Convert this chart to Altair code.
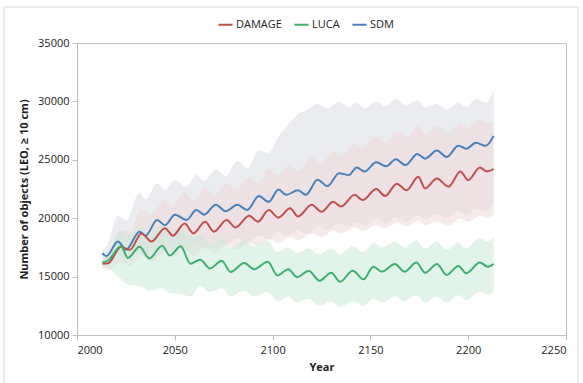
import altair as alt
import pandas as pd

names = ["DAMAGE", "LUCA", "SDM"]
line_colors = ["#c0504d", "#3daf6e", "#4682bd"]
band_colors = {"SDM": "#d8dde4", "DAMAGE": "#eed8d8", "LUCA": "#cbe9d9"}

x_ticks = [2000, 2050, 2100, 2150, 2200, 2250]
y_ticks = [10000, 15000, 20000, 25000, 30000, 35000]

sdm_years = [2013, 2015, 2021, 2025, 2032, 2035, 2041, 2045, 2050, 2056, 2061, 2065, 2071, 2076,
             2082, 2087, 2093, 2098, 2103, 2107, 2113, 2117, 2123, 2128, 2134, 2139, 2143, 2147,
             2153, 2158, 2163, 2168, 2174, 2178, 2184, 2189, 2195, 2199, 2204, 2209, 2213]
sdm_vals = [17000, 16750, 18000, 17300, 18850, 18500, 19850, 19400, 20300, 19850, 20700, 20300,
            21150, 20600, 21150, 20700, 21900, 21400, 22450, 22000, 22400, 22000, 23300, 22750,
            23850, 23700, 24350, 24000, 24800, 24450, 25050, 24550, 25500, 25100, 25800, 25250,
            26200, 25950, 26450, 26200, 27050]
sdm_hi = [17400, 17600, 20200, 19800, 22200, 21600, 23000, 22400, 23300, 22700, 23700, 23200,
          24200, 23600, 24900, 24300, 25800, 25600, 27000, 27800, 28900, 29200, 29800, 29400,
          30000, 29500, 29900, 29400, 30000, 29600, 30200, 29700, 30100, 29500, 29800, 29300,
          29900, 29500, 30200, 29900, 31000]
sdm_lo = [16600, 16300, 16900, 16400, 17200, 16900, 17400, 17100, 17700, 17300, 17900, 17500,
          18100, 17700, 18300, 17900, 18500, 18200, 18800, 18500, 19000, 18700, 19300, 19000,
          19500, 19300, 19700, 19400, 19900, 19600, 20100, 19700, 20300, 19900, 20400, 20000,
          20600, 20300, 20800, 20600, 21200]

dmg_years = [2013, 2016, 2022.5, 2027, 2033, 2038, 2045, 2049, 2055, 2059.5, 2065.5, 2070, 2076.5,
             2081, 2088, 2092.5, 2098, 2103, 2109, 2113, 2120, 2125, 2131, 2135, 2142, 2146, 2153,
             2157.5, 2163.5, 2168.5, 2174.5, 2178, 2184, 2190, 2196, 2200, 2206, 2209.5, 2213]
dmg_vals = [16100, 16150, 17550, 17300, 18700, 18000, 19150, 18500, 19550, 18700, 19700, 18850,
            19850, 19200, 20200, 19700, 20700, 20050, 20850, 20150, 21150, 20550, 21400, 21000,
            22000, 21550, 22500, 21900, 22950, 22400, 23550, 22550, 23400, 22700, 24000, 23250,
            24350, 24000, 24200]
dmg_hi = [16500, 16800, 19000, 18900, 20700, 20300, 21600, 21100, 22200, 21500, 22600, 21900,
          23000, 22500, 23500, 23100, 24200, 23700, 24600, 24000, 25200, 24700, 25700, 25300,
          26400, 26000, 27000, 26500, 27400, 27000, 27900, 27200, 27900, 27300, 28200, 27700,
          28400, 28100, 28300]
dmg_lo = [15700, 15600, 16200, 15900, 16800, 16300, 17100, 16700, 17300, 16800, 17500, 17000,
          17700, 17300, 17900, 17600, 18200, 17900, 18400, 18100, 18700, 18400, 18900, 18700,
          19200, 18900, 19400, 19100, 19600, 19300, 19800, 19400, 19700, 19400, 20000, 19700,
          20200, 20000, 20300]

luca_years = [2013, 2016, 2022.5, 2026, 2032, 2037, 2043.5, 2047.5, 2053, 2058, 2063, 2068, 2074,
              2078.5, 2085.5, 2090.5, 2097.5, 2102.5, 2108, 2112.5, 2118.5, 2124, 2130, 2134.5,
              2141, 2146.5, 2151.5, 2156, 2162.5, 2167.5, 2173.5, 2178, 2184, 2189, 2195, 2199,
              2206, 2210, 2213]
luca_vals = [16200, 16400, 17600, 16600, 17550, 16550, 17650, 16800, 17600, 16100, 16450, 15700,
             16350, 15400, 16170, 15640, 16270, 15100, 15630, 14950, 15480, 14650, 15330, 14560,
             15500, 14770, 15850, 15420, 16080, 15420, 16200, 15330, 16080, 15140, 15910, 15280,
             16200, 15850, 16080]
luca_hi = [16500, 17000, 19000, 18500, 19300, 18700, 19400, 18900, 19300, 18400, 18500, 17800,
           18300, 17500, 18100, 17600, 18100, 17100, 17500, 17000, 17400, 16900, 17400, 16900,
           17600, 17100, 17900, 17500, 18000, 17500, 18100, 17400, 18000, 17300, 17900, 17400,
           18300, 18000, 18500]
luca_lo = [15900, 15700, 14800, 14300, 14200, 13800, 14000, 13600, 13500, 13300, 14200, 13700,
           14000, 13300, 13800, 13300, 13700, 12900, 13300, 12800, 13100, 12500, 12900, 12400,
           12900, 12500, 13100, 12800, 13300, 12900, 13400, 12800, 13300, 12800, 13400, 13000,
           13700, 13500, 13700]


def frame(name, years, vals, lo, hi):
    return pd.DataFrame({"series": name, "year": years, "value": vals, "lo": lo, "hi": hi})


df = pd.concat([
    frame("SDM", sdm_years, sdm_vals, sdm_lo, sdm_hi),
    frame("DAMAGE", dmg_years, dmg_vals, dmg_lo, dmg_hi),
    frame("LUCA", luca_years, luca_vals, luca_lo, luca_hi),
], ignore_index=True)

FONT = "Open Sans"
xscale = alt.Scale(domain=[2000, 2250], nice=False, zero=False)
yscale = alt.Scale(domain=[10000, 35000], nice=False, zero=False)

x_axis = alt.Axis(values=x_ticks, format="d", title="Year", grid=False,
                  domainColor="#bfbfbf", tickColor="#bfbfbf", tickSize=5,
                  labelFont=FONT, labelFontSize=11, labelColor="#222222", labelPadding=4,
                  titleFont=FONT, titleFontSize=11, titleFontWeight="bold",
                  titleColor="#222222", titlePadding=6)
y_axis = alt.Axis(values=y_ticks, format="d", title="Number of objects (LEO, \u2265 10 cm)",
                  grid=False, domainColor="#bfbfbf", tickColor="#bfbfbf", tickSize=5,
                  labelFont=FONT, labelFontSize=11, labelColor="#222222", labelPadding=3,
                  titleFont=FONT, titleFontSize=11, titleFontWeight="bold",
                  titleColor="#222222", titlePadding=8)

base = alt.Chart(df)

band_layers = [
    base.transform_filter(alt.datum.series == s).mark_area(
        interpolate="monotone", fillOpacity=0.55, color=band_colors[s]
    ).encode(
        x=alt.X("year:Q", scale=xscale, axis=x_axis),
        y=alt.Y("lo:Q", scale=yscale, axis=y_axis),
        y2="hi:Q",
    )
    for s in ["SDM", "DAMAGE", "LUCA"]
]

lines = base.mark_line(interpolate="monotone", strokeWidth=2).encode(
    x=alt.X("year:Q", scale=xscale, axis=x_axis),
    y=alt.Y("value:Q", scale=yscale, axis=y_axis),
    color=alt.Color("series:N", scale=alt.Scale(domain=names, range=line_colors),
                    legend=alt.Legend(title=None, orient="none", direction="horizontal",
                                      legendX=140, legendY=-27,
                                      symbolType="stroke", symbolStrokeWidth=2, symbolSize=200,
                                      labelFont=FONT, labelFontSize=11, labelColor="#222222",
                                      labelOffset=2, columnPadding=8)),
)

frame_box = alt.Chart(pd.DataFrame({"k": [0]})).mark_rect(
    fillOpacity=0, stroke="#d9d9d9", strokeWidth=1
).encode(x=alt.value(-73), x2=alt.value(501), y=alt.value(-36), y2=alt.value(360))

chart = alt.layer(*band_layers, lines, frame_box).properties(
    width=489, height=292,
    autosize=alt.AutoSizeParams(type="none"),
    padding={"left": 77, "top": 43, "right": 17, "bottom": 48},
    background="white",
).configure_view(stroke="#bfbfbf", strokeWidth=1)

chart.save("out.html", embed_options={"renderer": "svg", "actions": False})
